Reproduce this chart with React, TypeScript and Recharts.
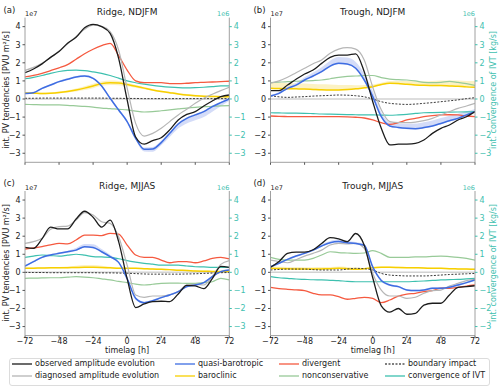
import { ComposedChart, Line, Area, XAxis, YAxis, ReferenceLine } from "recharts";

// time axis (hours), shared by every panel
const timelag = [-72, -66, -60, -54, -48, -42, -36, -30, -24, -18, -12, -6, 0, 6, 12, 18, 24, 30, 36, 42, 48, 54, 60, 66, 72];
const xTicks = [-72, -48, -24, 0, 24, 48, 72];
const yTicks = [-3, -2, -1, 0, 1, 2, 3, 4];

// (a) Ridge, NDJFM  — PV tendencies in 1e7, IVT convergence in 1e6
const aObserved = [1.45, 1.66, 1.94, 2.3, 2.62, 3.08, 3.41, 3.94, 4.13, 4.0, 3.63, 2.25, -0.05, -2.1, -2.5, -2.3, -2.14, -1.71, -1.16, -0.85, -0.7, -0.39, -0.11, 0.13, 0.22];
const aDiagnosed = [1.58, 1.75, 1.98, 2.3, 2.65, 3.05, 3.45, 3.85, 4.08, 4.02, 3.72, 2.7, 0.6, -1.35, -2.05, -1.9, -1.62, -1.25, -0.88, -0.57, -0.24, 0.04, 0.26, 0.46, 0.65];
const aQuasiBarotropic = [0.31, 0.35, 0.59, 0.77, 0.96, 1.09, 1.22, 1.27, 1.14, 0.72, 0.04, -0.61, -1.25, -2.17, -2.78, -2.76, -2.41, -1.9, -1.38, -1.07, -0.88, -0.7, -0.42, -0.2, 0.0];
const aBaroclinic = [0.33, 0.32, 0.3, 0.32, 0.36, 0.42, 0.5, 0.6, 0.72, 0.85, 0.9, 0.88, 0.8, 0.7, 0.6, 0.5, 0.42, 0.35, 0.28, 0.22, 0.18, 0.15, 0.14, 0.13, 0.13];
const aDivergent = [1.22, 1.3, 1.42, 1.57, 1.72, 1.9, 2.2, 2.5, 2.75, 2.95, 3.08, 2.4, 1.6, 1.0, 0.9, 0.9, 0.9, 0.85, 0.85, 0.87, 0.9, 0.92, 0.94, 0.96, 0.98];
const aNonconservative = [-0.3, -0.31, -0.32, -0.32, -0.33, -0.35, -0.38, -0.41, -0.45, -0.5, -0.53, -0.57, -0.6, -0.67, -0.72, -0.7, -0.65, -0.6, -0.55, -0.5, -0.46, -0.43, -0.4, -0.38, -0.37];
const aBoundary = [0.04, 0.04, 0.05, 0.05, 0.05, 0.05, 0.05, 0.05, 0.05, 0.05, 0.04, 0.04, 0.03, 0.03, 0.02, 0.02, 0.02, 0.02, 0.02, 0.02, 0.02, 0.02, 0.02, 0.02, 0.02];
const aIvt = [1.12, 1.2, 1.3, 1.42, 1.52, 1.58, 1.6, 1.57, 1.5, 1.42, 1.3, 1.15, 1.0, 0.9, 0.82, 0.75, 0.7, 0.66, 0.63, 0.62, 0.63, 0.65, 0.68, 0.72, 0.72];
const aQbUp = [0.05, 0.05, 0.05, 0.05, 0.05, 0.05, 0.05, 0.05, 0.05, 0.05, 0.05, 0.05, 0.06, 0.08, 0.1, 0.1, 0.1, 0.08, 0.06, 0.05, 0.05, 0.05, 0.05, 0.05, 0.05];
const aQbDown = [0.05, 0.05, 0.05, 0.05, 0.05, 0.05, 0.05, 0.05, 0.05, 0.05, 0.05, 0.06, 0.08, 0.1, 0.12, 0.15, 0.15, 0.2, 0.25, 0.28, 0.3, 0.3, 0.28, 0.2, 0.1];
const aBcUp = [0.05, 0.05, 0.05, 0.05, 0.05, 0.06, 0.08, 0.1, 0.12, 0.12, 0.12, 0.12, 0.1, 0.08, 0.06, 0.05, 0.05, 0.05, 0.05, 0.05, 0.05, 0.05, 0.05, 0.05, 0.05];
const aBcDown = [0.05, 0.05, 0.05, 0.05, 0.05, 0.06, 0.08, 0.1, 0.12, 0.12, 0.12, 0.12, 0.1, 0.08, 0.06, 0.05, 0.05, 0.05, 0.05, 0.05, 0.05, 0.05, 0.05, 0.05, 0.05];

// (b) Trough, NDJFM
const bObserved = [0.46, 0.46, 0.77, 1.09, 1.38, 1.6, 1.97, 2.3, 2.43, 2.43, 2.5, 1.51, -0.15, -1.62, -2.54, -2.5, -2.49, -2.45, -2.27, -1.9, -1.62, -1.44, -1.16, -0.98, -0.7];
const bDiagnosed = [0.87, 1.0, 1.2, 1.45, 1.7, 1.95, 2.16, 2.53, 2.76, 2.84, 2.76, 2.16, 0.65, -0.6, -1.25, -1.31, -1.31, -1.28, -1.2, -1.07, -0.88, -0.7, -0.52, -0.39, -0.24];
const bQuasiBarotropic = [0.17, 0.31, 0.59, 0.77, 1.05, 1.27, 1.51, 1.82, 1.97, 1.94, 1.7, 1.05, 0.13, -0.98, -1.49, -1.57, -1.62, -1.64, -1.58, -1.49, -1.35, -1.2, -1.07, -0.88, -0.7];
const bBaroclinic = [0.59, 0.58, 0.57, 0.56, 0.55, 0.53, 0.51, 0.5, 0.5, 0.52, 0.56, 0.62, 0.68, 0.8, 0.87, 0.85, 0.81, 0.78, 0.76, 0.75, 0.74, 0.72, 0.7, 0.67, 0.65];
const bDivergent = [-0.94, -0.96, -0.97, -0.98, -0.98, -0.98, -0.98, -0.98, -0.98, -0.99, -1.01, -1.05, -1.16, -1.31, -1.4, -1.31, -1.16, -1.07, -0.98, -0.92, -0.88, -0.87, -0.88, -0.94, -0.98];
const bNonconservative = [0.9, 0.93, 0.96, 0.98, 1.0, 1.02, 1.05, 1.12, 1.2, 1.25, 1.27, 1.3, 1.3, 1.18, 1.1, 1.07, 1.05, 1.0, 0.92, 0.9, 0.92, 0.97, 0.92, 0.85, 0.75];
const bBoundary = [0.18, 0.12, 0.09, 0.11, 0.13, 0.16, 0.18, 0.2, 0.22, 0.21, 0.18, 0.12, 0.0, -0.15, -0.24, -0.28, -0.3, -0.28, -0.24, -0.2, -0.15, -0.1, -0.05, 0.02, 0.07];
const bIvt = [-0.76, -0.77, -0.78, -0.78, -0.79, -0.81, -0.83, -0.84, -0.85, -0.86, -0.87, -0.88, -0.88, -0.89, -0.9, -0.88, -0.85, -0.8, -0.76, -0.75, -0.74, -0.73, -0.72, -0.71, -0.7];
const bQbUp = [0.05, 0.08, 0.1, 0.12, 0.15, 0.2, 0.25, 0.3, 0.35, 0.35, 0.35, 0.35, 0.3, 0.25, 0.2, 0.22, 0.25, 0.28, 0.3, 0.3, 0.3, 0.28, 0.25, 0.2, 0.15];
const bQbDown = [0.05, 0.05, 0.05, 0.05, 0.05, 0.05, 0.05, 0.05, 0.05, 0.05, 0.05, 0.05, 0.05, 0.05, 0.05, 0.05, 0.05, 0.05, 0.05, 0.05, 0.05, 0.05, 0.05, 0.05, 0.05];
const bBcUp = [0.3, 0.3, 0.3, 0.3, 0.3, 0.3, 0.3, 0.3, 0.28, 0.25, 0.2, 0.15, 0.12, 0.1, 0.12, 0.15, 0.18, 0.2, 0.22, 0.25, 0.28, 0.3, 0.32, 0.33, 0.35];
const bBcDown = [0.04, 0.04, 0.04, 0.04, 0.04, 0.04, 0.04, 0.04, 0.04, 0.04, 0.04, 0.04, 0.04, 0.04, 0.04, 0.04, 0.04, 0.04, 0.04, 0.04, 0.04, 0.04, 0.04, 0.04, 0.04];

// (c) Ridge, MJJAS
const cObserved = [1.38, 1.33, 1.85, 2.5, 2.4, 2.4, 2.95, 3.38, 3.05, 2.5, 2.89, 1.7, -0.35, -1.95, -1.75, -1.62, -1.6, -1.62, -1.2, -0.72, -0.75, -0.9, -0.35, 0.33, 0.28];
const cDiagnosed = [1.6, 1.7, 1.88, 2.38, 2.53, 2.56, 2.89, 3.3, 3.17, 2.8, 2.71, 1.97, 0.4, -1.25, -1.38, -1.31, -1.31, -1.25, -1.07, -0.7, -0.66, -0.7, -0.24, 0.44, 0.65];
const cQuasiBarotropic = [0.35, 0.59, 0.83, 0.96, 1.05, 1.14, 1.23, 1.42, 1.38, 1.14, 0.87, 0.55, -0.35, -1.44, -1.68, -1.57, -1.4, -1.25, -1.07, -0.79, -0.7, -0.57, -0.24, 0.04, 0.13];
const cBaroclinic = [0.22, 0.23, 0.24, 0.25, 0.25, 0.26, 0.27, 0.28, 0.28, 0.27, 0.25, 0.23, 0.22, 0.22, 0.2, 0.18, 0.17, 0.15, 0.12, 0.1, 0.07, 0.06, 0.05, 0.04, 0.04];
const cDivergent = [1.29, 1.35, 1.42, 1.52, 1.6, 1.57, 1.79, 2.06, 2.06, 2.03, 2.16, 2.12, 1.51, 0.96, 0.83, 0.83, 0.68, 0.53, 0.59, 0.59, 0.53, 0.63, 0.77, 0.83, 0.74];
const cNonconservative = [-0.33, -0.32, -0.31, -0.3, -0.3, -0.27, -0.24, -0.26, -0.3, -0.36, -0.42, -0.5, -0.57, -0.65, -0.7, -0.66, -0.61, -0.6, -0.6, -0.61, -0.61, -0.57, -0.52, -0.33, -0.42];
const cBoundary = [0.0, -0.01, -0.01, -0.02, -0.02, -0.02, -0.02, -0.02, -0.02, -0.03, -0.03, -0.04, -0.05, -0.07, -0.09, -0.1, -0.1, -0.1, -0.1, -0.09, -0.08, -0.06, -0.04, -0.02, -0.01];
const cIvt = [0.83, 0.9, 0.96, 0.93, 0.9, 0.95, 1.0, 0.95, 0.87, 0.85, 0.83, 0.75, 0.65, 0.57, 0.5, 0.45, 0.4, 0.4, 0.4, 0.35, 0.31, 0.3, 0.28, 0.28, 0.28];
const cQbUp = [0.05, 0.05, 0.05, 0.05, 0.05, 0.05, 0.12, 0.15, 0.18, 0.15, 0.1, 0.05, 0.05, 0.05, 0.05, 0.05, 0.05, 0.05, 0.05, 0.05, 0.05, 0.05, 0.05, 0.05, 0.05];
const cQbDown = [0.05, 0.05, 0.05, 0.05, 0.05, 0.05, 0.05, 0.05, 0.05, 0.05, 0.05, 0.05, 0.05, 0.05, 0.05, 0.05, 0.05, 0.05, 0.05, 0.05, 0.05, 0.05, 0.05, 0.05, 0.05];
const cBcUp = [0.04, 0.04, 0.04, 0.04, 0.04, 0.06, 0.1, 0.12, 0.12, 0.1, 0.06, 0.04, 0.04, 0.04, 0.04, 0.04, 0.04, 0.04, 0.04, 0.04, 0.04, 0.04, 0.04, 0.04, 0.04];
const cBcDown = [0.04, 0.04, 0.04, 0.04, 0.04, 0.04, 0.04, 0.04, 0.04, 0.04, 0.04, 0.04, 0.04, 0.04, 0.04, 0.04, 0.04, 0.04, 0.04, 0.04, 0.04, 0.04, 0.04, 0.04, 0.04];

// (d) Trough, MJJAS
const dObserved = [0.28, 0.6, 1.05, 1.12, 1.12, 1.25, 1.6, 1.92, 1.85, 1.7, 2.15, 1.5, -0.3, -1.85, -2.2, -2.0, -2.32, -2.27, -1.81, -1.71, -1.71, -1.25, -0.83, -0.79, -0.74];
const dDiagnosed = [0.68, 0.6, 0.53, 0.7, 0.9, 1.05, 1.23, 1.51, 1.6, 1.57, 1.6, 1.33, -0.06, -0.98, -1.31, -1.31, -1.44, -1.38, -1.16, -1.01, -0.98, -0.76, -0.61, -0.46, -0.39];
const dQuasiBarotropic = [0.31, 0.5, 0.72, 0.9, 1.05, 1.23, 1.46, 1.64, 1.7, 1.64, 1.6, 1.5, 0.3, -0.45, -0.7, -0.79, -0.98, -1.01, -0.98, -0.88, -0.88, -0.83, -0.7, -0.57, -0.42];
const dBaroclinic = [0.22, 0.21, 0.2, 0.19, 0.18, 0.18, 0.19, 0.2, 0.22, 0.2, 0.17, 0.2, 0.26, 0.28, 0.28, 0.27, 0.26, 0.25, 0.24, 0.22, 0.22, 0.2, 0.19, 0.18, 0.17];
const dDivergent = [-0.83, -0.9, -0.94, -0.97, -1.01, -1.16, -1.25, -1.25, -1.35, -1.49, -1.44, -1.38, -1.44, -1.68, -1.53, -1.31, -1.2, -1.16, -1.07, -1.01, -0.88, -0.88, -0.83, -0.76, -0.7];
const dNonconservative = [0.83, 0.72, 0.68, 0.68, 0.68, 0.77, 0.96, 1.14, 1.09, 1.07, 1.05, 1.07, 1.2, 1.05, 0.83, 0.83, 0.83, 0.85, 0.85, 0.88, 0.9, 0.87, 0.83, 0.77, 0.68];
const dBoundary = [0.13, 0.16, 0.18, 0.18, 0.18, 0.15, 0.13, 0.13, 0.13, 0.18, 0.22, 0.2, 0.13, -0.06, -0.15, -0.18, -0.2, -0.2, -0.2, -0.18, -0.15, -0.12, -0.1, -0.08, -0.06];
const dIvt = [-0.24, -0.3, -0.33, -0.37, -0.39, -0.41, -0.42, -0.44, -0.46, -0.5, -0.52, -0.52, -0.52, -0.52, -0.52, -0.52, -0.52, -0.5, -0.48, -0.45, -0.42, -0.4, -0.39, -0.36, -0.33];
const dQbUp = [0.05, 0.05, 0.05, 0.05, 0.05, 0.05, 0.08, 0.1, 0.12, 0.1, 0.08, 0.05, 0.05, 0.05, 0.05, 0.05, 0.05, 0.05, 0.05, 0.05, 0.05, 0.05, 0.05, 0.05, 0.05];
const dQbDown = [0.05, 0.05, 0.05, 0.05, 0.05, 0.05, 0.05, 0.05, 0.05, 0.05, 0.05, 0.05, 0.05, 0.05, 0.05, 0.05, 0.05, 0.05, 0.05, 0.05, 0.05, 0.05, 0.05, 0.05, 0.05];
const dBcUp = [0.1, 0.1, 0.1, 0.1, 0.1, 0.1, 0.1, 0.1, 0.1, 0.1, 0.1, 0.04, 0.04, 0.04, 0.04, 0.04, 0.04, 0.04, 0.04, 0.04, 0.04, 0.04, 0.04, 0.04, 0.04];
const dBcDown = [0.04, 0.04, 0.04, 0.04, 0.04, 0.04, 0.04, 0.04, 0.04, 0.04, 0.04, 0.04, 0.04, 0.04, 0.04, 0.04, 0.04, 0.04, 0.04, 0.04, 0.04, 0.04, 0.04, 0.04, 0.04];

const C = {
  observed: "#1c1c1c",
  diagnosed: "#b6b6b6",
  qb: "#3e6de2",
  qbBand: "#c9d3f6",
  baroclinic: "#f7cf00",
  bcBand: "#fbefb4",
  divergent: "#f55a40",
  noncons: "#98ca98",
  boundary: "#3a3a3a",
  ivt: "#3ec0af",
  spine: "#a0a0a0",
  tick: "#555",
  text: "#222",
};

const panels = [
  { tag: "(a)", title: "Ridge, NDJFM", left: 0, top: 0, h: 170, mTop: 17.6, xH: 7.7, yl: 25, yr: 20.7, bottom: false,
    observed: aObserved, diagnosed: aDiagnosed, qb: aQuasiBarotropic, bc: aBaroclinic, div: aDivergent, nc: aNonconservative, bnd: aBoundary, ivt: aIvt, qbUp: aQbUp, qbDn: aQbDown, bcUp: aBcUp, bcDn: aBcDown },
  { tag: "(b)", title: "Trough, NDJFM", left: 250, top: 0, h: 170, mTop: 17.6, xH: 7.7, yl: 20.5, yr: 25, bottom: false,
    observed: bObserved, diagnosed: bDiagnosed, qb: bQuasiBarotropic, bc: bBaroclinic, div: bDivergent, nc: bNonconservative, bnd: bBoundary, ivt: bIvt, qbUp: bQbUp, qbDn: bQbDown, bcUp: bBcUp, bcDn: bBcDown },
  { tag: "(c)", title: "Ridge, MJJAS", left: 0, top: 175, h: 183, mTop: 16, xH: 22.4, yl: 25, yr: 20.7, bottom: true,
    observed: cObserved, diagnosed: cDiagnosed, qb: cQuasiBarotropic, bc: cBaroclinic, div: cDivergent, nc: cNonconservative, bnd: cBoundary, ivt: cIvt, qbUp: cQbUp, qbDn: cQbDown, bcUp: cBcUp, bcDn: cBcDown },
  { tag: "(d)", title: "Trough, MJJAS", left: 250, top: 175, h: 183, mTop: 16, xH: 22.4, yl: 20.5, yr: 25, bottom: true,
    observed: dObserved, diagnosed: dDiagnosed, qb: dQuasiBarotropic, bc: dBaroclinic, div: dDivergent, nc: dNonconservative, bnd: dBoundary, ivt: dIvt, qbUp: dQbUp, qbDn: dQbDown, bcUp: dBcUp, bcDn: dBcDown },
];

const legendItems = [
  { label: "observed amplitude evolution", color: C.observed, x: 12, row: 0 },
  { label: "diagnosed amplitude evolution", color: C.diagnosed, x: 12, row: 1 },
  { label: "quasi-barotropic", color: C.qb, x: 175, row: 0 },
  { label: "baroclinic", color: C.baroclinic, x: 175, row: 1 },
  { label: "divergent", color: C.divergent, x: 279, row: 0 },
  { label: "nonconservative", color: C.noncons, x: 279, row: 1 },
  { label: "boundary impact", color: C.boundary, x: 385, row: 0, dashed: true },
  { label: "convergence of IVT", color: C.ivt, x: 385, row: 1 },
];

const minus = (v: number) => (v < 0 ? `\u2212${-v}` : `${v}`);
const FONT = "'DejaVu Sans', Verdana, sans-serif";

function Txt({ x, y, children, size = 8, color = C.text, align = "center", rotate = false }: any) {
  const tx = align === "center" ? "-50%" : align === "right" ? "-100%" : "0";
  return (
    <div
      style={{
        position: "absolute",
        left: x,
        top: y,
        fontSize: size,
        lineHeight: 1,
        color,
        whiteSpace: "nowrap",
        transform: rotate ? "translate(-50%, -50%) rotate(-90deg)" : `translate(${tx}, -50%)`,
      }}
    >
      {children}
    </div>
  );
}

function Panel({ p }: any) {
  const data = timelag.map((t, i) => ({
    t,
    observed: p.observed[i],
    diagnosed: p.diagnosed[i],
    qb: p.qb[i],
    qbBand: [p.qb[i] - p.qbDn[i], p.qb[i] + p.qbUp[i]],
    bc: p.bc[i],
    bcBand: [p.bc[i] - p.bcDn[i], p.bc[i] + p.bcUp[i]],
    div: p.div[i],
    nc: p.nc[i],
    bnd: p.bnd[i],
    ivt: p.ivt[i],
  }));
  const lineProps = { type: "monotone" as const, dot: false, activeDot: false, isAnimationActive: false, yAxisId: "l" };
  return (
    <div style={{ position: "absolute", left: p.left, top: p.top }}>
      <ComposedChart width={250} height={p.h} data={data} margin={{ top: p.mTop, right: 0, bottom: 0, left: 0 }}>
        <XAxis
          dataKey="t"
          type="number"
          domain={[-72, 72]}
          ticks={xTicks}
          allowDataOverflow
          height={p.xH}
          tickSize={2.5}
          tickMargin={0}
          axisLine={{ stroke: C.spine }}
          tickLine={{ stroke: C.tick }}
          tick={{ fontSize: 8, fill: C.text }}
          tickFormatter={p.bottom ? minus : () => ""}
        />
        <XAxis xAxisId="top" orientation="top" dataKey="t" type="number" domain={[-72, 72]} height={0} tick={false} tickLine={false} axisLine={{ stroke: C.spine }} />
        <YAxis
          yAxisId="l"
          width={p.yl}
          domain={[-3.5, 4.5]}
          ticks={yTicks}
          allowDataOverflow
          tickSize={2.5}
          tickMargin={2}
          axisLine={{ stroke: C.spine }}
          tickLine={{ stroke: C.tick }}
          tick={{ fontSize: 8, fill: C.text }}
          tickFormatter={minus}
        />
        <YAxis
          yAxisId="r"
          orientation="right"
          width={p.yr}
          domain={[-3.5, 4.5]}
          ticks={yTicks}
          allowDataOverflow
          tickSize={2.5}
          tickMargin={2}
          axisLine={{ stroke: C.spine }}
          tickLine={{ stroke: C.ivt }}
          tick={{ fontSize: 8, fill: C.ivt }}
          tickFormatter={minus}
        />
        <ReferenceLine yAxisId="l" y={0} stroke="#d2d2d2" strokeWidth={1.5} />
        <Area yAxisId="l" type="monotone" dataKey="bcBand" stroke="none" fill={C.bcBand} fillOpacity={0.8} isAnimationActive={false} activeDot={false} />
        <Area yAxisId="l" type="monotone" dataKey="qbBand" stroke="none" fill={C.qbBand} fillOpacity={0.8} isAnimationActive={false} activeDot={false} />
        <Line {...lineProps} yAxisId="r" dataKey="ivt" stroke={C.ivt} strokeWidth={1.2} />
        <Line {...lineProps} dataKey="nc" stroke={C.noncons} strokeWidth={1.2} />
        <Line {...lineProps} dataKey="bc" stroke={C.baroclinic} strokeWidth={1.5} />
        <Line {...lineProps} dataKey="div" stroke={C.divergent} strokeWidth={1.3} />
        <Line {...lineProps} dataKey="bnd" stroke={C.boundary} strokeWidth={1} strokeDasharray="2 1.5" />
        <Line {...lineProps} dataKey="diagnosed" stroke={C.diagnosed} strokeWidth={1.2} />
        <Line {...lineProps} dataKey="qb" stroke={C.qb} strokeWidth={1.5} />
        <Line {...lineProps} dataKey="observed" stroke={C.observed} strokeWidth={1.3} />
      </ComposedChart>
    </div>
  );
}

export default function App() {
  return (
    <div style={{ position: "absolute", left: 0, top: 0, width: 500, height: 388, background: "#fff", fontFamily: FONT, overflow: "hidden" }}>
      {panels.map((p) => {
        const plotL = p.left + p.yl;
        const plotR = p.left + 250 - p.yr;
        const plotT = p.top + p.mTop;
        const plotB = p.top + p.h - p.xH;
        const cx = (plotL + plotR) / 2;
        const cy = (plotT + plotB) / 2;
        return (
          <div key={p.tag}>
            <Panel p={p} />
            <Txt x={p.left + 3.5} y={plotT - 8} size={8.5} align="left">{p.tag}</Txt>
            <Txt x={cx} y={plotT - 5.5} size={9}>{p.title}</Txt>
            <Txt x={plotL} y={plotT - 3.5} size={6.5} align="left">1e7</Txt>
            <Txt x={plotR} y={plotT - 3.5} size={6.5} align="right" color={C.ivt}>1e6</Txt>
            {p.left === 0 && <Txt x={7} y={cy} size={8} rotate>int. PV tendencies [PVU m²/s]</Txt>}
            {p.left !== 0 && <Txt x={494} y={cy} size={8} rotate color={C.ivt}>int. convergence of IVT [kg/s]</Txt>}
            {p.bottom && <Txt x={cx} y={351} size={8}>timelag [h]</Txt>}
          </div>
        );
      })}
      <div style={{ position: "absolute", left: 8.5, top: 357.5, width: 481, height: 28.5, border: "1px solid #dcdcdc", borderRadius: 3, boxSizing: "border-box" }} />
      {legendItems.map((it) => {
        const y = it.row === 0 ? 364 : 375.7;
        return (
          <div key={it.label}>
            <svg style={{ position: "absolute", left: it.x, top: y - 2 }} width={20} height={4}>
              <line x1={0} x2={20} y1={2} y2={2} stroke={it.color} strokeOpacity={0.65} strokeWidth={2} strokeDasharray={it.dashed ? "2 1.5" : undefined} />
            </svg>
            <Txt x={it.x + 23} y={y} size={8} align="left">{it.label}</Txt>
          </div>
        );
      })}
    </div>
  );
}
